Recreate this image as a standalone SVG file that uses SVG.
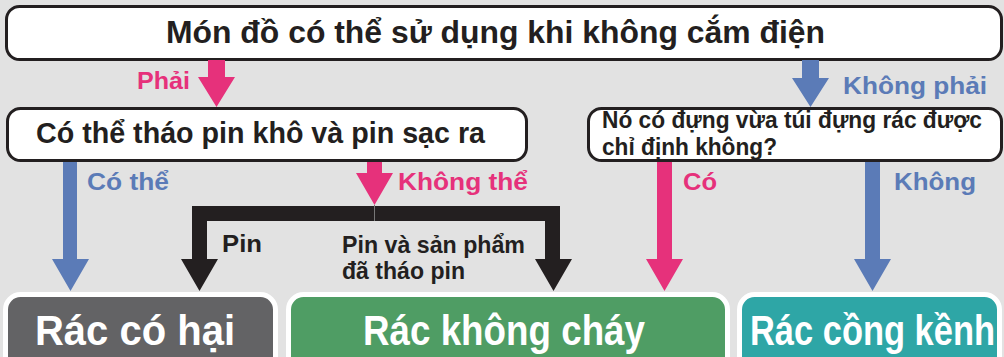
<svg xmlns="http://www.w3.org/2000/svg" width="1004" height="357" viewBox="0 0 1004 357">
<style>
text{font-family:"Liberation Sans",Arial,"Noto Sans",sans-serif;font-weight:bold}
.q{fill:#fff;stroke:#231f20;stroke-width:3}
.t{fill:#231f20}
.pk{fill:#e6317b}
.bl{fill:#5b7bb7}
.bk{fill:#231f20}
.res{stroke:#fff;stroke-width:5}
.rt{fill:#fff;font-size:42px}
.lbl{font-size:24px}
</style>
<rect width="1004" height="357" fill="#e2e2e2"/>
<g id="q1">
<rect class="q" x="6.5" y="6.5" width="995" height="53" rx="13"/>
<text class="t" x="166" y="43" font-size="31" textLength="659" lengthAdjust="spacingAndGlyphs">Món đồ có thể sử dụng khi không cắm điện</text>
</g>
<g id="q2">
<rect class="q" x="7.5" y="108.5" width="519" height="52" rx="13"/>
<text class="t" x="36" y="143" font-size="29" textLength="449" lengthAdjust="spacingAndGlyphs">Có thể tháo pin khô và pin sạc ra</text>
</g>
<g id="q3">
<rect class="q" x="588.5" y="108.5" width="413" height="52" rx="13"/>
<text class="t" x="602" y="128" font-size="23" textLength="380" lengthAdjust="spacingAndGlyphs">Nó có đựng vừa túi đựng rác được</text>
<text class="t" x="602" y="155" font-size="23" textLength="175" lengthAdjust="spacingAndGlyphs">chỉ định không?</text>
</g>
<g id="r1">
<rect class="res" x="5.5" y="294.5" width="270" height="90" rx="15" fill="#636365"/>
<text class="rt" x="35" y="345" textLength="200" lengthAdjust="spacingAndGlyphs">Rác có hại</text>
</g>
<g id="r2">
<rect class="res" x="288.5" y="294.5" width="439" height="90" rx="15" fill="#4f9d64"/>
<text class="rt" x="363" y="345" textLength="282" lengthAdjust="spacingAndGlyphs">Rác không cháy</text>
</g>
<g id="r3">
<rect class="res" x="739.5" y="294.5" width="260" height="90" rx="15" fill="#2ea6a6"/>
<text class="rt" x="750" y="345" textLength="245" lengthAdjust="spacingAndGlyphs">Rác cồng kềnh</text>
</g>
<g id="connectors">
<polygon class="pk" points="208,60 225,60 225,77 235,77 216.5,107 198,77 208,77"/>
<polygon class="bl" points="802,60 819,60 819,78 829,78 810.5,107 792,78 802,78"/>
<polygon class="bl" points="63,162 77,162 77,259 89,259 70.5,291 52,259 63,259"/>
<polygon class="pk" points="367,162 382,162 382,173 393,173 374.5,205 356,173 367,173"/>
<polygon class="bk" points="192,206 560,206 560,259 572,259 553.5,291 535,259 545,259 545,221 207,221 207,259 218,259 199.5,291 181,259 192,259"/>
<line x1="374.5" y1="205" x2="374.5" y2="221" stroke="#777" stroke-width="1"/>
<polygon class="pk" points="657,162 672,162 672,259 683,259 664.5,291 646,259 657,259"/>
<polygon class="bl" points="865,162 880,162 880,259 891,259 872.5,291 854,259 865,259"/>
<text class="lbl pk" x="137" y="89" textLength="53" lengthAdjust="spacingAndGlyphs">Phải</text>
<text class="lbl bl" x="843" y="94" textLength="144" lengthAdjust="spacingAndGlyphs">Không phải</text>
<text class="lbl bl" x="87" y="190" textLength="82" lengthAdjust="spacingAndGlyphs">Có thể</text>
<text class="lbl pk" x="398" y="190" textLength="130" lengthAdjust="spacingAndGlyphs">Không thể</text>
<text class="lbl pk" x="683" y="190" textLength="34" lengthAdjust="spacingAndGlyphs">Có</text>
<text class="lbl bl" x="894" y="190" textLength="82" lengthAdjust="spacingAndGlyphs">Không</text>
<text class="lbl t" x="222" y="252" textLength="40" lengthAdjust="spacingAndGlyphs">Pin</text>
<text class="lbl t" x="342" y="253" textLength="183" lengthAdjust="spacingAndGlyphs">Pin và sản phẩm</text>
<text class="lbl t" x="342" y="279" textLength="123" lengthAdjust="spacingAndGlyphs">đã tháo pin</text>
</g>
</svg>
